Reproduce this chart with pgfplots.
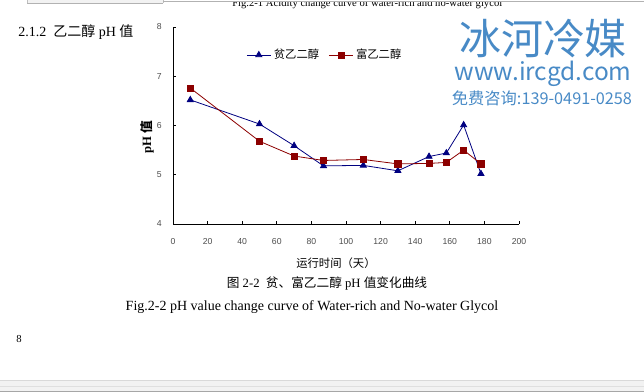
\documentclass[border=0pt]{standalone}
\usepackage{fontspec}
\setmainfont{Liberation Serif}
\newfontfamily\cjk{Noto Sans CJK SC}
\newfontfamily\arial{Liberation Sans}
\usepackage{pgfplots}
\pgfplotsset{compat=1.18}
\definecolor{navyc}{RGB}{0,0,128}
\definecolor{maroonc}{RGB}{140,0,0}
\definecolor{wm}{RGB}{72,138,198}
\newcommand{\px}[2]{({(#1)*0.75pt},{(392-(#2))*0.75pt})}
\begin{document}
\begin{tikzpicture}
\path[use as bounding box] (0,0) rectangle (483pt,294pt);
\clip (0,0) rectangle (483pt,294pt);
% cut-off caption at top
\node[anchor=base west,inner sep=0pt] at \px{232}{7} {\resizebox{202.5pt}{!}{Fig.2-1 Acidity change curve of water-rich and no-water glycol}};
% window chrome at top
\fill[white] \px{0}{-2} rectangle \px{644}{1};
\fill[gray!10] \px{27}{-2} rectangle \px{163}{3};
\draw[gray!60,line width=0.5pt] \px{27}{3} -- \px{163}{3};
\draw[gray!50,line width=0.4pt] \px{27}{-2} -- \px{27}{3};
\draw[gray!50,line width=0.4pt] \px{163}{-2} -- \px{163}{3};
\draw[gray!60,line width=0.4pt] \px{163}{1} -- \px{644}{1};
% heading
\node[anchor=base west,inner sep=0pt] at \px{18}{37} {\fontsize{10.5}{12}\selectfont 2.1.2\ \ {\cjk 乙二醇} pH {\cjk 值}};
% watermark
\node[inner sep=0pt,text=wm] at \px{543}{39} {\cjk\fontsize{31.5}{34}\selectfont 冰河冷媒};
\node[inner sep=0pt,text=wm] at \px{543}{74} {\resizebox{132.75pt}{!}{\cjk www.ircgd.com}};
\node[inner sep=0pt,text=wm] at \px{542}{98} {\resizebox{135pt}{!}{\cjk 免费咨询:139-0491-0258}};
% chart
\begin{axis}[
  at={(129.75pt,126pt)}, anchor=south west,
  scale only axis, width=259.5pt, height=147.75pt,
  xmin=0, xmax=200, ymin=4, ymax=8,
  axis lines=left, axis line style={-, line width=0.6pt},
  xtick={0,20,...,200}, ytick={4,5,6,7,8},
  tick align=inside, major tick length=2.5pt,
  tick style={line width=0.5pt, black},
  /pgf/number format/assume math mode=true,
  tick label style={font=\arial\fontsize{6.5}{7}\selectfont, text=black!70},
  xticklabel style={yshift=-7.5pt},
  yticklabel style={xshift=-5pt},
  xlabel={\cjk\fontsize{8.5}{10}\selectfont 运行时间（天）},
  xlabel style={at={(axis description cs:0.471,-0.198)}, anchor=center},
  ylabel={\bfseries\fontsize{9.5}{11}\selectfont pH {\cjk 值}},
  ylabel style={at={(axis description cs:-0.075,0.44)}, anchor=center},
  legend style={at={(0.44,0.858)}, anchor=center, draw=none, fill=none,
     font=\cjk\fontsize{8.5}{10}\selectfont, /tikz/every even column/.append style={column sep=5pt}},
  legend columns=2,
  legend image code/.code={\draw[mark repeat=2,mark phase=2,#1] plot coordinates {(0pt,0pt) (9pt,0pt) (18pt,0pt)};},
]
\addplot[navyc, line width=0.6pt, mark=triangle*, mark size=2.6pt, mark options={fill=navyc, solid}]
coordinates {(10,6.52) (50,6.03) (70,5.59) (87,5.18) (110,5.19) (130,5.08) (148,5.37) (158,5.44) (168,6.01) (178,5.02)};
\addlegendentry{贫乙二醇}
\addplot[maroonc, line width=0.6pt, mark=square*, mark size=2.3pt, mark options={fill=maroonc, solid}]
coordinates {(10,6.76) (50,5.68) (70,5.38) (87,5.29) (110,5.31) (130,5.22) (148,5.23) (158,5.25) (168,5.50) (178,5.22)};
\addlegendentry{富乙二醇}
\end{axis}
% captions
\node[inner sep=0pt] at \px{327}{283} {\fontsize{9.5}{11}\selectfont {\cjk 图} 2-2\ \ {\cjk 贫、富乙二醇} pH {\cjk 值变化曲线}};
\node[inner sep=0pt, anchor=base] at \px{312}{311} {\fontsize{10.5}{12}\selectfont Fig.2-2 pH value change curve of Water-rich and No-water Glycol};
\node[inner sep=0pt, anchor=base] at \px{19}{343} {\fontsize{8}{9}\selectfont 8};
% bottom bar
\fill[gray!10] \px{0}{380} rectangle \px{644}{393};
\draw[gray!30,line width=0.5pt] \px{0}{380.5} -- \px{644}{380.5};
\draw[gray!25,line width=0.4pt] \px{0}{386} -- \px{644}{386};
\draw[gray!70,line width=1pt] \px{0}{391.5} -- \px{644}{391.5};
\end{tikzpicture}
\end{document}
